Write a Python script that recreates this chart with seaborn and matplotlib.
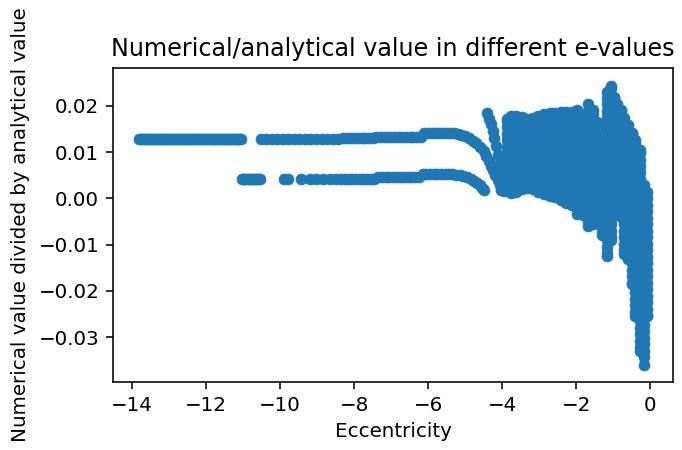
import numpy as np
import pandas as pd
import matplotlib
matplotlib.use("Agg")
import matplotlib.pyplot as plt
import seaborn as sns

# ---- values (ratio given in units of 1e-3) ----
upper1_e = [-13.8, -13.75, -13.7, -13.65, -13.6, -13.55, -13.5, -13.45, -13.4, -13.35,
            -13.3, -13.25, -13.2, -13.15, -13.1, -13.05, -13.0, -12.95, -12.9, -12.85,
            -12.8, -12.75, -12.7, -12.65, -12.6, -12.55, -12.5, -12.45, -12.4, -12.35,
            -12.3, -12.25, -12.2, -12.15, -12.1, -12.05, -12.0, -11.95, -11.9, -11.85,
            -11.8, -11.75, -11.7, -11.65, -11.6, -11.55, -11.5, -11.45, -11.4, -11.35,
            -11.3, -11.25, -11.2, -11.15, -11.1, -11.07]
upper1_r = [12.8, 12.8, 12.8, 12.8, 12.8, 12.8, 12.8, 12.8, 12.8, 12.8,
            12.8, 12.8, 12.8, 12.8, 12.8, 12.8, 12.8, 12.8, 12.8, 12.8,
            12.8, 12.8, 12.8, 12.8, 12.8, 12.8, 12.8, 12.8, 12.8, 12.8,
            12.8, 12.8, 12.8, 12.8, 12.8, 12.8, 12.8, 12.8, 12.8, 12.8,
            12.8, 12.8, 12.8, 12.8, 12.8, 12.8, 12.8, 12.8, 12.8, 12.8,
            12.8, 12.8, 12.8, 12.8, 12.8, 12.8]

upper2_e = [-10.53, -10.38, -10.23, -10.08, -9.93, -9.78, -9.63, -9.48, -9.33, -9.18,
            -9.03, -8.88, -8.73, -8.58, -8.43, -8.3,
            -8.2, -8.1, -8.0, -7.9, -7.8, -7.7, -7.6, -7.5,
            -7.4, -7.3, -7.2, -7.1, -7.0, -6.9, -6.8, -6.7, -6.6, -6.5, -6.4, -6.3, -6.2,
            -6.1, -6.0, -5.9, -5.8, -5.7, -5.6, -5.5, -5.4, -5.3,
            -5.2, -5.1, -5.0, -4.9, -4.8, -4.7, -4.6, -4.5,
            -4.43, -4.36, -4.3, -4.24, -4.18, -4.12, -4.07, -4.02]
upper2_r = [12.8, 12.8, 12.8, 12.8, 12.8, 12.8, 12.8, 12.8, 12.8, 12.8,
            12.8, 12.8, 12.8, 12.8, 12.9, 13.1,
            13.1, 13.1, 13.1, 13.1, 13.1, 13.1, 13.1, 13.1,
            13.2, 13.2, 13.2, 13.2, 13.2, 13.2, 13.2, 13.2, 13.2, 13.2, 13.2, 13.2, 13.2,
            14.1, 14.1, 14.1, 14.1, 14.1, 14.1, 14.1, 14.1, 14.1,
            13.9, 13.7, 13.4, 13.0, 12.5, 11.9, 11.1, 10.2,
            9.2, 8.1, 7.1, 6.1, 5.0, 3.9, 2.8, 1.8]

lower1_e = [-11.04, -10.99, -10.94, -10.89, -10.84, -10.79, -10.74, -10.69, -10.64, -10.6, -10.55]
lower1_r = [4.2, 4.2, 4.2, 4.2, 4.2, 4.2, 4.2, 4.2, 4.2, 4.2, 4.2]

lower2_e = [-9.9, -9.78, -9.43, -9.2, -9.02, -8.84, -8.66, -8.48,
            -8.35, -8.25, -8.15, -8.05, -7.95, -7.85, -7.75, -7.65, -7.55, -7.45,
            -7.35, -7.25, -7.15, -7.05, -6.95, -6.85, -6.75, -6.65, -6.55, -6.45, -6.35, -6.25,
            -6.15, -6.05, -5.95, -5.85, -5.75, -5.65, -5.55, -5.45, -5.35,
            -5.25, -5.15, -5.05, -4.95, -4.85, -4.75, -4.67, -4.6, -4.54, -4.48]
lower2_r = [4.2, 4.2, 4.2, 4.2, 4.2, 4.2, 4.2, 4.2,
            4.3, 4.3, 4.3, 4.3, 4.3, 4.3, 4.3, 4.3, 4.3, 4.3,
            4.6, 4.6, 4.6, 4.6, 4.6, 4.6, 4.6, 4.6, 4.6, 4.6, 4.6, 4.6,
            5.3, 5.3, 5.3, 5.3, 5.3, 5.3, 5.3, 5.3, 5.3,
            5.1, 5.0, 4.8, 4.6, 4.2, 3.8, 3.3, 2.8, 2.3, 1.8]

branch_e = [-4.41, -4.36, -4.31, -4.26, -4.21, -4.16, -4.11, -4.07, -4.03, -3.99, -3.95]
branch_r = [18.4, 17.2, 16.0, 14.5, 13.0, 11.3, 9.4, 7.7, 5.8, 3.8, 1.6]

# dense oscillating region: one list of ratio values per eccentricity column
blob_e = [-3.88, -3.77, -3.62, -3.47, -3.32, -3.17, -3.02, -2.87, -2.72, -2.57,
          -2.42, -2.27, -2.12, -1.97, -1.82, -1.67, -1.55, -1.43, -1.31, -1.16,
          -1.07, -0.98, -0.89, -0.80, -0.70, -0.60, -0.50, -0.40, -0.28, -0.18, -0.08]
blob_r = [
    [2.0, 2.8, 4.2, 5.6, 7.0, 8.4, 9.8, 11.2, 12.6, 14.0, 15.4, 16.8, 17.2],
    [1.2, 2.1, 3.5, 4.9, 6.3, 7.7, 9.1, 10.5, 11.9, 13.3, 14.7, 16.1, 17.5, 17.8],
    [1.4, 2.8, 4.2, 5.6, 7.0, 8.4, 9.8, 11.2, 12.6, 14.0, 15.4, 16.8, 17.8],
    [2.0, 3.5, 4.9, 6.3, 7.7, 9.1, 10.5, 11.9, 13.3, 14.7, 16.1, 17.5],
    [2.3, 2.8, 4.2, 5.6, 7.0, 8.4, 9.8, 11.2, 12.6, 14.0, 15.4, 16.8, 17.2],
    [2.0, 3.5, 4.9, 6.3, 7.7, 9.1, 10.5, 11.9, 13.3, 14.7, 16.1, 17.4],
    [1.4, 2.8, 4.2, 5.6, 7.0, 8.4, 9.8, 11.2, 12.6, 14.0, 15.4, 16.8, 17.8],
    [0.9, 2.1, 3.5, 4.9, 6.3, 7.7, 9.1, 10.5, 11.9, 13.3, 14.7, 16.1, 17.5, 18.2],
    [0.6, 1.4, 2.8, 4.2, 5.6, 7.0, 8.4, 9.8, 11.2, 12.6, 14.0, 15.4, 16.8, 18.2, 18.4],
    [0.4, 0.7, 2.1, 3.5, 4.9, 6.3, 7.7, 9.1, 10.5, 11.9, 13.3, 14.7, 16.1, 17.5, 18.5],
    [-0.3, 0.0, 1.4, 2.8, 4.2, 5.6, 7.0, 8.4, 9.8, 11.2, 12.6, 14.0, 15.4, 16.8, 18.2, 18.6],
    [-1.0, -0.7, 0.7, 2.1, 3.5, 4.9, 6.3, 7.7, 9.1, 10.5, 11.9, 13.3, 14.7, 16.1, 17.5, 18.7],
    [-1.5, -1.4, 0.0, 1.4, 2.8, 4.2, 5.6, 7.0, 8.4, 9.8, 11.2, 12.6, 14.0, 15.4, 16.8, 18.2, 18.7],
    [-3.4, -2.1, -0.7, 0.7, 2.1, 3.5, 4.9, 6.3, 7.7, 9.1, 10.5, 11.9, 13.3, 14.7, 16.1, 17.5, 18.9, 19.2],
    [-3.5, -2.8, -1.4, 0.0, 1.4, 2.8, 4.2, 5.6, 7.0, 8.4, 9.8, 11.2, 12.6, 14.0, 15.4, 16.8, 17.2],
    [-6.0, -4.9, -3.5, -2.1, -0.7, 0.7, 2.1, 3.5, 4.9, 6.3, 7.7, 9.1, 10.5, 11.9, 13.3, 14.7, 16.1,
     17.5, 18.9, 20.3],
    [-5.5, -4.2, -2.8, -1.4, 0.0, 1.4, 2.8, 4.2, 5.6, 7.0, 8.4, 9.8, 11.2, 12.6, 14.0, 15.4, 16.8,
     18.2, 19.0],
    [-5.0, -3.5, -2.1, -0.7, 0.7, 2.1, 3.5, 4.9, 6.3, 7.7, 9.1, 10.5, 11.9, 13.3, 14.7, 16.1, 16.5],
    [-8.0, -7.0, -5.6, -4.2, -2.8, -1.4, 0.0, 1.4, 2.8, 4.2, 5.6, 7.0, 8.4, 9.8, 11.2, 12.5],
    [-12.4, -11.9, -10.5, -9.1, -7.7, -6.3, -4.9, -3.5, -2.1, -0.7, 0.7, 2.1, 3.5, 4.9, 6.3, 7.7,
     9.1, 10.5, 11.9, 13.3, 14.7, 16.1, 17.5, 18.9, 20.3, 21.7, 23.0],
    [-9.0, -8.4, -7.0, -5.6, -4.2, -2.8, -1.4, 0.0, 1.4, 2.8, 4.2, 5.6, 7.0, 8.4, 9.8, 11.2, 12.6,
     14.0, 15.4, 16.8, 18.2, 19.6, 21.0, 22.4, 23.8, 24.3],
    [4.5, 4.9, 6.3, 7.7, 9.1, 10.5, 11.9, 13.3, 14.7, 16.1, 17.5, 18.9, 20.3, 21.7, 22.0],
    [4.5, 5.6, 7.0, 8.4, 9.8, 11.2, 12.6, 14.0, 15.4, 16.8, 18.2, 19.6, 20.5],
    [-4.0, -3.5, -2.1, -0.7, 0.7, 2.1, 3.5, 4.9, 6.3, 7.7, 9.1, 10.5, 11.9, 13.3, 14.7, 16.1, 17.5,
     18.9, 19.0],
    [-12.0, -11.2, -9.8, -8.4, -7.0, -5.6, -4.2, -2.8, -1.4, 0.0, 1.4, 2.8, 4.2, 5.6, 7.0, 8.4, 9.8,
     11.2, 12.6, 14.0, 15.4, 16.8, 17.3],
    [-13.0, -11.9, -10.5, -9.1, -7.7, -6.3, -4.9, -3.5, -2.1, -0.7, 0.7, 2.1, 3.5, 4.9, 6.3, 7.7,
     9.1, 10.5, 11.9, 13.3, 14.7, 15.8],
    [-18.5, -18.2, -16.8, -15.4, -14.0, -12.6, -11.2, -9.8, -8.4, -7.0, -5.6, -4.2, -2.8, -1.4, 0.0,
     1.4, 2.8, 4.2, 5.6, 7.0, 8.4, 9.8, 11.2, 12.6, 14.0, 14.2],
    [-25.5, -24.5, -23.1, -21.7, -20.3, -18.9, -17.5, -16.1, -14.7, -13.3, -11.9, -10.5, -9.1, -7.7,
     -6.3, -4.9, -3.5, -2.1, -0.7, 0.7, 2.1, 3.5, 4.9, 6.3, 7.7, 9.1, 10.5, 11.9, 12.7],
    [-33.0, -32.2, -30.8, -29.4, -28.0, -26.6, -25.2, -23.8, -22.4, -21.0, -19.6, -18.2, -16.8,
     -15.4, -14.0, -12.6, -11.2, -9.8, -8.4, -7.0, -5.6, -4.2, -2.8, -1.4, 0.0, 1.4, 2.8, 4.2, 5.6,
     7.0, 8.4, 9.8, 10.4],
    [-36.0, -34.3, -32.9, -31.5, -30.1, -28.7, -27.3, -25.9, -24.5, -23.1, -21.7, -20.3, -18.9,
     -17.5, -16.1, -14.7, -13.3, -11.9, -10.5, -9.1, -7.7, -6.3, -4.9, -3.5, -2.1, -0.7, 0.7, 2.1,
     3.0],
    [-25.5, -25.2, -23.8, -22.4, -21.0, -19.6, -18.2, -16.8, -15.4, -14.0, -12.6, -11.2, -9.8, -8.4,
     -7.0, -5.6, -4.2, -2.8, -1.4, 0.0, 1.3],
]

x_ticks = [-14, -12, -10, -8, -6, -4, -2, 0]
y_ticks = [-0.03, -0.02, -0.01, 0.00, 0.01, 0.02]

# ---- assemble long-form table ----
ecc, ratio = [], []
for es, rs in [(upper1_e, upper1_r), (upper2_e, upper2_r), (lower1_e, lower1_r),
               (lower2_e, lower2_r), (branch_e, branch_r)]:
    ecc.extend(es)
    ratio.extend(rs)
for e, rs in zip(blob_e, blob_r):
    ecc.extend([e] * len(rs))
    ratio.extend(rs)
df = pd.DataFrame({"Eccentricity": ecc, "ratio": np.array(ratio) / 1000.0})

# ---- draw ----
DPI = 143
fig = plt.figure(figsize=(682 / DPI, 450 / DPI), dpi=DPI)
ax = fig.add_axes([0.166, 0.152, 0.987 - 0.166, 0.848 - 0.152])
sns.scatterplot(data=df, x="Eccentricity", y="ratio", ax=ax, s=30,
                color="#1f77b4", edgecolor="#1f77b4", linewidth=0.4, legend=False)

ax.set_xlim(-14.51, 0.62)
ax.set_ylim(-0.0396, 0.0281)
ax.set_xticks(x_ticks)
ax.set_yticks(y_ticks)
ax.set_xlabel("Eccentricity")
ax.set_ylabel("Numerical value divided by analytical value")
ax.set_title("Numerical/analytical value in different e-values")

fig.savefig("out.png", dpi=DPI)
